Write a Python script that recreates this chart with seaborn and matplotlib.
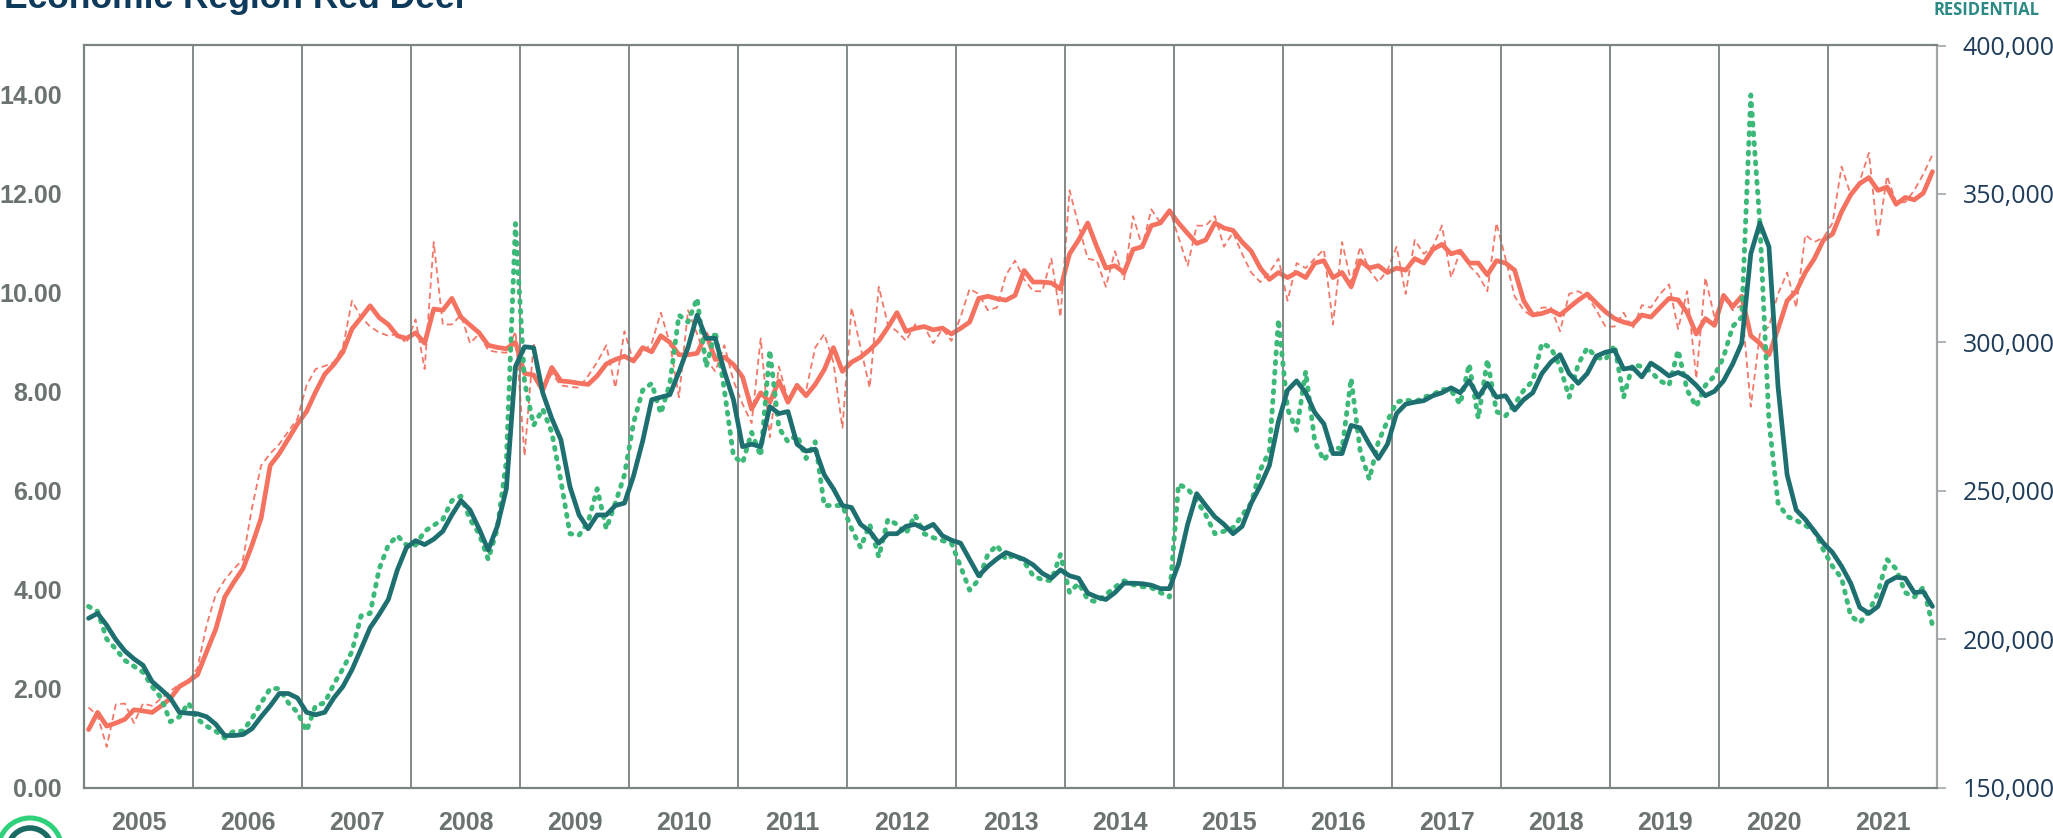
import numpy as np
import pandas as pd
import matplotlib
matplotlib.use("Agg")
import matplotlib.pyplot as plt
from matplotlib.patches import Circle
from matplotlib.ticker import FuncFormatter
import seaborn as sns

# ---------------- data ----------------
months = pd.period_range("2005-01", "2021-12", freq="M").astype(str).tolist()
years = list(range(2005, 2022))

# Months of supply (left axis)
supply_monthly = [
    3.66, 3.56, 3.00, 2.80, 2.57, 2.45, 2.33, 2.04, 1.81, 1.33, 1.43, 1.71,
    1.38, 1.24, 1.14, 1.00, 1.14, 1.14, 1.40, 1.71, 2.00, 2.00, 1.71, 1.52,
    1.14, 1.66, 1.71, 2.09, 2.40, 2.75, 3.47, 3.52, 4.42, 4.90, 5.09, 4.90,
    4.90, 5.18, 5.30, 5.42, 5.80, 5.89, 5.42, 5.13, 4.61, 5.23, 6.60, 11.40,
    8.20, 7.32, 7.65, 7.18, 6.20, 5.13, 5.10, 5.37, 6.04, 5.23, 5.75, 6.32,
    7.37, 8.03, 8.17, 7.56, 8.17, 9.55, 9.41, 9.89, 8.50, 9.22, 8.03, 6.70,
    6.56, 7.18, 6.70, 8.84, 7.27, 6.99, 7.13, 6.65, 6.99, 5.70, 5.70, 5.70,
    5.23, 4.85, 5.32, 4.66, 5.42, 5.32, 5.13, 5.51, 5.13, 5.05, 4.99, 4.94,
    4.47, 3.99, 4.20, 4.71, 4.90, 4.61, 4.71, 4.56, 4.28, 4.20, 4.18, 4.71,
    3.94, 4.13, 3.80, 3.75, 3.90, 4.05, 4.18, 4.10, 4.06, 4.04, 3.94, 3.85,
    6.13, 6.04, 5.80, 5.51, 5.13, 5.18, 5.25, 5.50, 5.75, 6.42, 6.80, 9.46,
    7.65, 7.22, 8.41, 6.99, 6.61, 6.89, 6.84, 8.27, 6.80, 6.23, 6.99, 7.41,
    7.79, 7.84, 7.79, 7.89, 7.94, 8.05, 8.03, 7.75, 8.56, 7.46, 8.65, 7.60,
    7.51, 7.75, 8.03, 8.22, 8.98, 8.89, 8.51, 7.89, 8.56, 8.89, 8.70, 8.65,
    8.94, 7.89, 8.55, 8.51, 8.41, 8.22, 8.13, 8.84, 8.03, 7.70, 8.13, 8.32,
    8.70, 9.32, 9.51, 14.00, 11.40, 7.40, 5.75, 5.48, 5.40, 5.30, 5.18, 4.80,
    4.47, 4.23, 3.47, 3.33, 3.56, 3.94, 4.61, 4.42, 3.94, 3.85, 4.05, 3.28,
]
supply_avg = [
    3.42, 3.52, 3.28, 2.99, 2.76, 2.60, 2.47, 2.14, 1.98, 1.81, 1.52, 1.50,
    1.49, 1.43, 1.28, 1.05, 1.05, 1.07, 1.19, 1.43, 1.65, 1.90, 1.90, 1.81,
    1.52, 1.47, 1.52, 1.81, 2.04, 2.38, 2.80, 3.23, 3.50, 3.80, 4.40, 4.85,
    4.99, 4.91, 5.02, 5.18, 5.51, 5.80, 5.61, 5.23, 4.80, 5.28, 6.04, 8.51,
    8.91, 8.89, 7.98, 7.46, 7.03, 6.08, 5.51, 5.23, 5.51, 5.51, 5.70, 5.75,
    6.30, 7.00, 7.84, 7.89, 7.94, 8.40, 8.90, 9.55, 9.08, 9.08, 8.41, 7.84,
    6.89, 6.94, 6.89, 7.70, 7.56, 7.60, 6.94, 6.80, 6.84, 6.32, 6.04, 5.70,
    5.66, 5.32, 5.18, 4.94, 5.13, 5.13, 5.28, 5.32, 5.23, 5.32, 5.09, 5.00,
    4.94, 4.61, 4.28, 4.47, 4.62, 4.75, 4.68, 4.61, 4.50, 4.33, 4.23, 4.40,
    4.28, 4.23, 3.93, 3.85, 3.80, 3.94, 4.13, 4.13, 4.12, 4.09, 4.02, 4.02,
    4.52, 5.32, 5.94, 5.70, 5.47, 5.32, 5.13, 5.28, 5.75, 6.10, 6.51, 7.40,
    8.03, 8.22, 7.98, 7.58, 7.35, 6.75, 6.75, 7.32, 7.27, 6.94, 6.65, 6.94,
    7.56, 7.75, 7.79, 7.82, 7.92, 7.98, 8.08, 7.98, 8.22, 7.89, 8.17, 7.89,
    7.92, 7.63, 7.84, 7.98, 8.37, 8.60, 8.75, 8.37, 8.17, 8.37, 8.72, 8.80,
    8.84, 8.46, 8.49, 8.30, 8.58, 8.46, 8.32, 8.39, 8.30, 8.13, 7.92, 8.01,
    8.22, 8.56, 8.98, 10.79, 11.41, 10.93, 8.10, 6.32, 5.61, 5.42, 5.18, 4.94,
    4.75, 4.47, 4.13, 3.64, 3.52, 3.66, 4.15, 4.25, 4.23, 3.94, 3.96, 3.66,
]

# Average residential price (right axis)
price_monthly = [
    177000, 174200, 163700, 178000, 178300, 171700, 178300, 177500, 180000, 182500, 184700, 185700,
    190300, 204700, 215000, 220000, 223700, 226800, 244300, 258500, 262500, 265700, 270000, 274300,
    285500, 291000, 292000, 293300, 298200, 314000, 308500, 305300, 303300, 302200, 302800, 299700,
    307700, 291000, 333800, 306000, 306000, 309200, 299700, 302800, 297300, 296700, 296500, 303700,
    261700, 299700, 283800, 289500, 285500, 285000, 284700, 288700, 293300, 299000, 284700, 303700,
    293300, 296700, 299700, 310000, 299700, 281500, 310800, 302800, 294200, 290200, 299000, 287000,
    279200, 272800, 301300, 268000, 291800, 280700, 284700, 283800, 298200, 302800, 293300, 271200,
    311700, 298200, 284700, 318700, 306000, 303700, 300500, 306000, 305300, 299700, 304500, 300500,
    308500, 318000, 316300, 310800, 311700, 322700, 327500, 321200, 317200, 317200, 328200, 308500,
    351200, 339300, 328200, 327500, 318700, 330700, 321200, 342500, 332200, 344800, 340200, 344800,
    335300, 325800, 339300, 339300, 342500, 332200, 337000, 329800, 323500, 320300, 323500, 328200,
    314000, 326700, 325000, 328200, 331300, 306000, 333800, 320300, 332200, 324300, 320300, 324300,
    332200, 316300, 334500, 329800, 332200, 339300, 321800, 330700, 325800, 322700, 317200, 340200,
    328200, 315500, 310800, 308500, 311700, 311700, 303700, 316300, 317200, 315500, 310800, 305300,
    305300, 310000, 304500, 312500, 311700, 316300, 319500, 304500, 317200, 287800, 321800, 308500,
    315500, 310800, 312500, 278300, 302800, 305300, 316300, 323500, 311700, 336200, 333800, 335300,
    340200, 359200, 349700, 354300, 363800, 335300, 356000, 347200, 347200, 351200, 356700, 363200,
]
price_avg = [
    169500, 175300, 170700, 171700, 173000, 176200, 175800, 175300, 177500, 180000, 184000, 185800,
    188000, 195800, 203300, 214200, 219200, 223700, 231700, 240800, 258500, 262500, 267500, 272500,
    276700, 283300, 289200, 292500, 296700, 304500, 308300, 312300, 308300, 306000, 302200, 301300,
    303200, 299700, 311200, 310800, 314800, 308500, 305800, 303200, 299000, 298300, 297800, 300000,
    289500, 289000, 283800, 291500, 287000, 286700, 286200, 285800, 288700, 292700, 294200, 295300,
    293700, 298200, 296800, 302200, 300000, 295800, 295800, 296300, 302800, 294200, 295000, 292500,
    288300, 277500, 283000, 279800, 287000, 279800, 285500, 282000, 285800, 290800, 298200, 290200,
    293300, 295000, 297500, 300500, 305000, 310000, 303700, 304700, 305300, 304200, 304800, 302800,
    304700, 306800, 314800, 315500, 314700, 314200, 315800, 324200, 320300, 320300, 320000, 318000,
    329800, 334500, 340200, 332200, 325000, 325800, 323500, 331300, 332200, 339300, 340200, 344300,
    340200, 336700, 333300, 334500, 340200, 338500, 337700, 333800, 330700, 325000, 321200, 323500,
    321800, 323500, 321800, 326700, 327500, 321800, 323500, 318700, 327500, 325000, 325800, 323500,
    325000, 324300, 328200, 326700, 331300, 333000, 329800, 330700, 326700, 326700, 322700, 327500,
    326700, 324300, 314000, 309200, 309700, 310800, 309200, 311700, 314200, 316300, 313200, 310300,
    308000, 306800, 306000, 309200, 308500, 311700, 314800, 314300, 310000, 302800, 308000, 305700,
    315800, 312000, 315500, 302200, 299700, 295800, 304500, 314000, 317200, 323500, 328200, 334500,
    336500, 344000, 349700, 353500, 355500, 351200, 352300, 346500, 348800, 348000, 350300, 357500,
]

n = len(months)
for name, arr in [("supply_monthly", supply_monthly), ("supply_avg", supply_avg),
                  ("price_monthly", price_monthly), ("price_avg", price_avg)]:
    if len(arr) != n:
        raise ValueError(f"{name} has {len(arr)} values, expected {n}")

df = pd.DataFrame({
    "month": months,
    "pos": np.arange(n) + 0.5,
    "supply_monthly": supply_monthly,
    "supply_avg": supply_avg,
    "price_monthly": price_monthly,
    "price_avg": price_avg,
})

# ---------------- style ----------------
sns.set_theme(style="white")
plt.rcParams["font.family"] = ["Liberation Sans", "DejaVu Sans"]

C_RED = "#f4725f"
C_RED_D = "#f2786a"
C_TEAL = "#1e6f70"
C_GREEN = "#3cb878"
C_GRID = "#6f7773"
C_LEFT = "#6b7370"
C_RIGHT = "#1f3d5a"

fig = plt.figure(figsize=(20.53, 8.38), dpi=100)
ax = fig.add_axes([84 / 2053, 1 - 787.5 / 838, (1937 - 84) / 2053, (787.5 - 45.5) / 838])
ax2 = ax.twinx()
ax.set_zorder(ax2.get_zorder() + 1)
ax.patch.set_visible(False)

# price (right axis)
sns.lineplot(data=df, x="pos", y="price_monthly", ax=ax2, color=C_RED_D,
             linewidth=1.3, linestyle=(0, (3.5, 2.2)), zorder=2)
sns.lineplot(data=df, x="pos", y="price_avg", ax=ax2, color=C_RED,
             linewidth=3.4, zorder=3, solid_joinstyle="round")

# months of supply (left axis)
sns.lineplot(data=df, x="pos", y="supply_monthly", ax=ax, color=C_GREEN,
             linewidth=3.5, linestyle=(0, (0.4, 1.6)), dash_capstyle="round", zorder=3)
sns.lineplot(data=df, x="pos", y="supply_avg", ax=ax, color=C_TEAL,
             linewidth=3.4, zorder=4, solid_joinstyle="round")

# year separators
for k in range(1, len(years)):
    ax.axvline(12 * k, color=C_GRID, linewidth=1.2, zorder=1)

ax.set_xlim(0, n)
ax.set_ylim(0, 15)
ax2.set_ylim(150000, 400000)

ax.set_xticks([12 * k + 6 for k in range(len(years))])
ax.set_xticklabels([str(y) for y in years])
ax.set_yticks(np.arange(0, 15, 2))
ax.yaxis.set_major_formatter(FuncFormatter(lambda v, p: f"{v:.2f}"))
ax2.set_yticks(np.arange(150000, 400001, 50000))
ax2.yaxis.set_major_formatter(FuncFormatter(lambda v, p: f"{v:,.0f}"))

ax.set_xlabel("")
ax.set_ylabel("")
ax2.set_xlabel("")
ax2.set_ylabel("")

ax.tick_params(axis="x", length=0, pad=17, labelsize=18, labelcolor=C_LEFT)
ax.tick_params(axis="y", length=0, pad=16, labelsize=18, labelcolor=C_LEFT)
for lbl in ax.get_xticklabels() + ax.get_yticklabels():
    lbl.set_fontweight("bold")
ax2.tick_params(axis="y", length=6.5, width=1.2, color="#a3a7aa", pad=12,
                labelsize=18, labelcolor=C_RIGHT)
for lbl in ax2.get_yticklabels():
    lbl.set_fontfamily(["Open Sans", "DejaVu Sans"])

for side in ["left", "top", "bottom"]:
    ax.spines[side].set_color("#7c8480")
    ax.spines[side].set_linewidth(1.6)
    ax2.spines[side].set_visible(False)
ax.spines["right"].set_visible(False)
ax2.spines["right"].set_color("#a3a7aa")
ax2.spines["right"].set_linewidth(1.6)
ax.grid(False)
ax2.grid(False)

# title (partly cut off at the top, as in the source) and label
fig.text(0.002, 0.9905, "Economic Region Red Deer", fontsize=25.5, fontweight="bold",
         color="#0e3a5c", ha="left", va="baseline")
fig.text(0.9935, 0.988, "RESIDENTIAL", fontsize=12, fontweight="bold",
         color="#2b8a84", ha="right", va="center", family=["Open Sans", "DejaVu Sans"])

# logo fragment bottom-left
fig.add_artist(Circle((0.30, -0.12), 0.32, transform=fig.dpi_scale_trans,
                      fill=False, edgecolor="#2fd27a", linewidth=3.6, clip_on=False))
fig.add_artist(Circle((0.30, -0.12), 0.22, transform=fig.dpi_scale_trans,
                      fill=False, edgecolor="#1a6b63", linewidth=4.0, clip_on=False))

fig.savefig("out.png", dpi=100)
